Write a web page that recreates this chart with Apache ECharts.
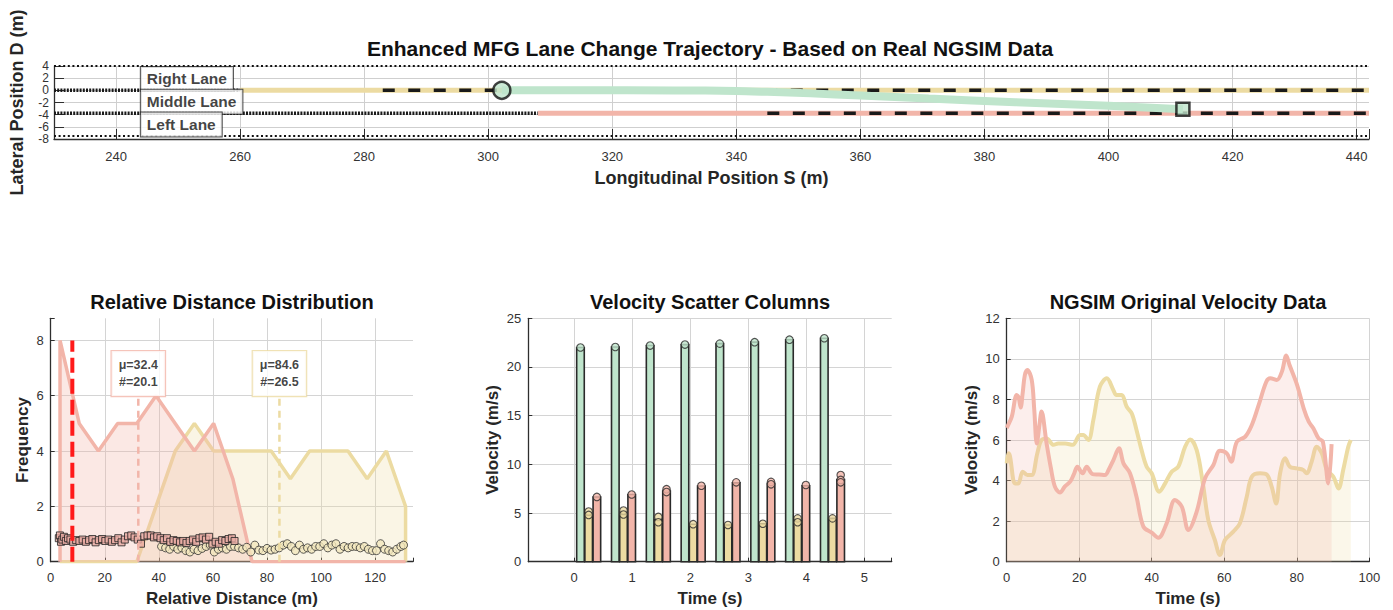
<!DOCTYPE html>
<html><head><meta charset="utf-8">
<script src="https://cdn.jsdelivr.net/npm/echarts@6/dist/echarts.min.js"></script>
<style>html,body{margin:0;padding:0;background:#fff}#c{width:1393px;height:610px}</style>
</head><body><div id="c"></div>
<script>
// ================= DATA =================
// --- top: lane change trajectory ---
const sRange = [230, 442];
const dRange = [-8, 4];
const roadEdgeD = [4, -7.5];
const laneMarkD = [0, -3.75];
const denseMarkEndS = [260, 308];     // dense marking from sRange[0] to these
const dashMarkStartS = [283, 345];    // dashed marking from these to sRange[1]
const rightVehS = [260, 442];         // right-lane vehicle path (D=0)
const leftVehS = [308, 442];          // left-lane vehicle path (D=-3.75)
const trajS = [302.2, 315, 330, 340, 345, 352, 360, 371, 385, 400, 412];
const trajD = [0, 0, -0.02, -0.1, -0.25, -0.5, -0.85, -1.35, -1.95, -2.55, -3.1];
const startPoint = [302.2, 0];
const endPoint = [412, -3.1];
const laneLabels = ['Right Lane', 'Middle Lane', 'Left Lane'];
const laneLabelD = [1.875, -1.875, -5.625];
const laneLabelS = 244;

// --- bottom-left: relative distance distribution ---
const binCenters = [3.45, 10.55, 17.65, 24.75, 31.85, 38.95, 46.05, 53.15, 60.25, 67.35, 74.45, 81.55, 88.65, 95.75, 102.85, 109.95, 117.05, 124.15, 131.25];
const freqNear = [8, 5, 4, 5, 5, 6, 5, 4, 5, 3, 0, 0, 0, 0, 0, 0, 0, 0, 0];
const freqFar  = [0, 0, 0, 0, 0, 2, 4, 5, 4, 4, 4, 4, 3, 4, 4, 4, 3, 4, 2];
const safeDist = 8;
const meanNear = 32.4, sdNear = 20.1;
const meanFar = 84.6, sdFar = 26.5;
const meanLineTop = 5.9;
const statBoxY = 6.8;
const nearPts = [[3.0,0.85],[3.4,0.95],[3.8,0.72],[4.3,0.8],[4.9,0.9],[5.6,0.75],[6.4,0.85],[7.3,0.8],[8.3,0.72],[9.4,0.78],[10.6,0.75],[11.8,0.8],[13.0,0.72],[14.2,0.78],[15.4,0.82],[16.6,0.7],[17.8,0.78],[19.0,0.82],[20.2,0.75],[21.4,0.8],[22.6,0.72],[23.8,0.78],[25.0,0.85],[26.2,0.7],[27.4,0.8],[28.6,0.92],[29.8,0.95],[31.0,0.88],[32.2,0.8],[33.4,0.65],[34.6,0.92],[35.8,0.95],[37.0,0.95],[38.2,0.88],[39.4,0.92],[40.6,0.85],[41.8,0.78],[43.0,0.85],[44.2,0.72],[45.4,0.78],[46.6,0.75],[47.8,0.7],[49.0,0.75],[50.2,0.68],[51.4,0.75],[52.6,0.8],[53.8,0.72],[55.0,0.85],[56.2,0.88],[57.4,0.8],[58.6,0.9],[59.8,0.65],[61.0,0.72],[62.2,0.65],[63.4,0.78],[64.6,0.75],[65.8,0.82],[67.0,0.85],[68.0,0.75]];
const farPts = [[41.0,0.55],[42.5,0.5],[44.0,0.45],[45.5,0.55],[47.0,0.45],[48.5,0.5],[50.0,0.4],[51.5,0.35],[53.0,0.45],[54.5,0.4],[56.0,0.48],[57.5,0.55],[59.0,0.6],[60.5,0.35],[62.0,0.45],[63.5,0.5],[65.0,0.45],[66.5,0.55],[68.0,0.55],[69.5,0.5],[71.0,0.45],[72.5,0.52],[74.0,0.35],[75.5,0.6],[77.0,0.42],[78.5,0.4],[80.0,0.48],[81.5,0.42],[83.0,0.45],[84.5,0.5],[86.0,0.6],[87.5,0.65],[89.0,0.55],[90.5,0.4],[92.0,0.6],[93.5,0.45],[95.0,0.5],[96.5,0.45],[98.0,0.55],[99.5,0.55],[101.0,0.65],[102.5,0.5],[104.0,0.6],[105.5,0.65],[107.0,0.45],[108.5,0.55],[110.0,0.5],[111.5,0.55],[113.0,0.55],[114.5,0.5],[116.0,0.55],[117.5,0.45],[119.0,0.4],[120.5,0.4],[122.0,0.65],[123.5,0.45],[125.0,0.4],[126.5,0.35],[128.0,0.45],[129.5,0.55],[130.5,0.6]];

// --- bottom-middle: velocity scatter columns ---
const velTimes  = [0.25, 0.85, 1.45, 2.05, 2.65, 3.25, 3.85, 4.45];
const velGreen  = [22.0, 22.05, 22.2, 22.3, 22.4, 22.55, 22.8, 22.95];
const velYellow = [4.8, 4.85, 4.3, 3.85, 3.77, 3.9, 4.2, 4.45];
const velRed    = [6.64, 6.9, 7.25, 7.77, 8.1, 8.05, 7.8, 8.45];
const ptsGreen  = [[0.25,22.0],[0.85,22.05],[1.45,22.2],[2.05,22.3],[2.65,22.4],[3.25,22.55],[3.85,22.8],[4.45,22.95]];
const ptsYellow = [[0.25,5.15],[0.25,4.8],[0.85,5.25],[0.85,4.85],[1.45,4.6],[1.45,4.05],[2.05,3.85],[2.65,3.77],[3.25,3.9],[3.85,4.45],[3.85,4.05],[4.45,4.45]];
const ptsRed    = [[0.25,6.65],[0.85,6.9],[1.45,7.45],[1.45,7.15],[2.05,7.8],[2.65,8.15],[3.25,8.2],[3.25,7.95],[3.85,7.88],[4.45,8.9],[4.45,8.4],[4.45,8.15]];

// --- bottom-right: NGSIM original velocity ---
const redT = [0, 0.2, 1.4, 2.75, 3.3, 3.85, 4.4, 5.0, 5.7, 6.9, 7.6, 8.3, 9.0, 9.6, 11.0, 12.2, 13.3, 14.7, 16.0, 17.5, 18.5, 19.5, 20.95, 22.05, 23.7, 25.5, 27.1, 28.3, 29.4, 30.97, 32.2, 34.0, 35.8, 37.7, 40.0, 41.8, 44.1, 46.4, 48.3, 50.1, 52.4, 54.7, 57.0, 58.8, 60.7, 61.9, 63.5, 65.8, 67.6, 69.5, 71.6, 72.7, 74.5, 75.9, 77.1, 78.0, 80.1, 81.9, 83.3, 84.6, 86.0, 87.2, 88.7, 89.6];
const redV = [6.6, 6.66, 7.15, 8.22, 8.1, 7.6, 8.3, 9.2, 9.45, 8.96, 7.5, 5.83, 6.7, 7.4, 5.83, 4.6, 3.7, 3.41, 3.7, 3.95, 4.3, 4.68, 4.36, 4.68, 4.32, 4.3, 4.27, 4.6, 5.0, 5.59, 4.85, 4.36, 3.2, 1.73, 1.43, 1.18, 1.89, 3.04, 2.71, 1.56, 2.47, 4.11, 4.77, 5.47, 5.34, 4.93, 5.92, 6.17, 6.74, 7.73, 8.87, 9.04, 8.96, 9.37, 10.16, 9.7, 8.71, 7.56, 6.9, 6.57, 6.08, 5.92, 3.86, 5.8];
const yelT = [0, 0.5, 0.9, 2.3, 3.2, 4.4, 5.7, 6.9, 8.45, 9.6, 11.0, 12.9, 14.2, 16.1, 18.2, 20.2, 21.1, 22.5, 23.9, 25.7, 27.6, 29.4, 30.3, 31.7, 33.1, 34.5, 35.8, 37.2, 38.6, 39.98, 42.1, 43.7, 45.5, 47.3, 49.2, 50.6, 52.4, 54.1, 55.6, 57.4, 58.8, 60.2, 62.5, 64.3, 66.2, 67.6, 69.9, 71.7, 73.1, 74.3, 75.4, 76.8, 78.1, 80.0, 81.8, 82.7, 84.1, 85.5, 86.9, 88.3, 90.1, 91.5, 92.8, 94.2, 94.9];
const yelV = [4.85, 5.35, 5.2, 3.86, 3.86, 4.44, 4.27, 4.27, 5.35, 6.0, 6.08, 5.76, 5.83, 5.83, 5.76, 6.25, 6.25, 6.0, 6.99, 8.63, 9.04, 8.47, 8.22, 8.22, 7.64, 7.31, 6.49, 5.5, 4.68, 4.36, 3.45, 3.86, 4.44, 4.68, 5.67, 6.03, 5.5, 3.86, 2.05, 1.07, 0.33, 1.07, 1.48, 1.89, 3.2, 4.19, 4.36, 4.3, 3.69, 2.87, 4.36, 5.1, 4.68, 4.6, 4.52, 4.36, 4.93, 5.67, 5.35, 4.52, 4.19, 3.61, 4.52, 5.67, 6.0];

// ================= STYLE / BUILD =================
const FONT = "'Liberation Sans', Arial, Helvetica, sans-serif";
const C_GREEN = '#bfe5cc', C_YEL = '#ecdba2', C_RED = '#f2b5a9';
const zip = (a, b) => a.map((v, i) => [v, b[i]]);
const stepFmt = step => v => (Math.abs(v / step - Math.round(v / step)) < 1e-6 ? String(Math.round(v * 1000) / 1000) : '');

function axis(gi, extra, tickLen) {
  return Object.assign({
    gridIndex: gi, type: 'value',
    axisLine: { show: true, onZero: false, lineStyle: { color: '#2e2e2e', width: 1.3 } },
    axisTick: { show: true, inside: true, length: tickLen || 4, lineStyle: { color: '#2e2e2e' } },
    axisLabel: { color: '#333', fontSize: 13, fontFamily: FONT },
    splitLine: { show: true, lineStyle: { color: '#d4d4d4', width: 1 } },
    nameLocation: 'middle',
    nameTextStyle: { color: '#262626', fontSize: 17, fontWeight: 'bold', fontFamily: FONT }
  }, extra);
}
const topNameStyle = { color: '#262626', fontSize: 18, fontWeight: 'bold', fontFamily: FONT };
const lbl = (extra) => Object.assign({ color: '#333', fontSize: 13, fontFamily: FONT }, extra);

const grids = [
  { left: 52, top: 66, width: 1317, height: 73 },
  { left: 50.7, top: 318.3, width: 362.3, height: 243.4 },
  { left: 528.3, top: 318.3, width: 363.4, height: 243.4 },
  { left: 1006.7, top: 318.3, width: 362.6, height: 243.4 }
];

const xAxes = [
  axis(0, { min: sRange[0], max: sRange[1], splitNumber: 10, name: 'Longitudinal Position S (m)', nameGap: 30, nameTextStyle: topNameStyle,
            axisLabel: lbl({ margin: 11, formatter: stepFmt(20) }),
            splitLine: { show: true, showMinLine: false, showMaxLine: false, lineStyle: { color: '#cfcfcf' } } }, 10),
  axis(1, { min: 0, max: 134, interval: 20, name: 'Relative Distance (m)', nameGap: 28,
            axisLabel: lbl({ margin: 9, formatter: stepFmt(20) }),
            splitLine: { show: true, showMaxLine: false, lineStyle: { color: '#d4d4d4' } } }),
  axis(2, { min: -0.79, max: 5.47, splitNumber: 6, name: 'Time (s)', nameGap: 28,
            axisLabel: lbl({ margin: 9, formatter: stepFmt(1) }),
            splitLine: { show: true, showMinLine: false, showMaxLine: false, lineStyle: { color: '#d4d4d4' } } }),
  axis(3, { min: 0, max: 100, interval: 20, name: 'Time (s)', nameGap: 28,
            axisLabel: lbl({ margin: 9 }) })
];
const yAxes = [
  axis(0, { min: dRange[0], max: dRange[1], interval: 2, name: 'Lateral Position D (m)', nameGap: 28, nameTextStyle: topNameStyle,
            axisLabel: lbl({ margin: 5, fontSize: 12, lineHeight: 11, showMinLabel: true, showMaxLabel: true }),
            splitLine: { show: true, lineStyle: { color: '#cfcfcf' } } }, 10),
  axis(1, { min: 0, max: 8.8, interval: 2, name: 'Frequency', nameGap: 20,
            axisLabel: lbl({ margin: 7, formatter: stepFmt(2) }),
            splitLine: { show: true, showMaxLine: false, lineStyle: { color: '#d4d4d4' } } }),
  axis(2, { min: 0, max: 25, interval: 5, name: 'Velocity (m/s)', nameGap: 27,
            axisLabel: lbl({ margin: 7 }) }),
  axis(3, { min: 0, max: 12, interval: 2, name: 'Velocity (m/s)', nameGap: 27,
            axisLabel: lbl({ margin: 7 }) })
];

const series = [];
function seg(gi, pts, color, width, type, z) {
  series.push({ type: 'line', xAxisIndex: gi, yAxisIndex: gi, data: pts, symbol: 'none', silent: true, z: z || 2,
    lineStyle: { color, width, type: type || 'solid', cap: 'butt' } });
}
// top: road edges
roadEdgeD.forEach(d => seg(0, [[sRange[0], d], [sRange[1], d]], '#111', 2, [2, 2.6], 3));
// vehicle lane paths
seg(0, [[rightVehS[0], laneMarkD[0]], [rightVehS[1], laneMarkD[0]]], C_YEL, 5, 'solid', 2);
seg(0, [[leftVehS[0], laneMarkD[1]], [leftVehS[1], laneMarkD[1]]], C_RED, 5, 'solid', 2);
// lane markings
laneMarkD.forEach((d, i) => {
  seg(0, [[sRange[0], d], [denseMarkEndS[i], d]], '#1a1a1a', 3.5, [2, 1.2], 3);
  seg(0, [[dashMarkStartS[i], d], [sRange[1], d]], '#1a1a1a', 3.5, [12, 13.5], 3);
});
// trajectory
series.push({ type: 'line', xAxisIndex: 0, yAxisIndex: 0, data: zip(trajS, trajD), symbol: 'none', smooth: 0.3, z: 4,
  lineStyle: { color: C_GREEN, width: 8 } });
series.push({ type: 'scatter', xAxisIndex: 0, yAxisIndex: 0, data: [startPoint], symbol: 'circle', symbolSize: 17, z: 5,
  itemStyle: { color: C_GREEN, borderColor: '#111', borderWidth: 2.5 } });
series.push({ type: 'scatter', xAxisIndex: 0, yAxisIndex: 0, data: [endPoint], symbol: 'rect', symbolSize: 13, z: 5,
  itemStyle: { color: C_GREEN, borderColor: '#111', borderWidth: 2.5 } });
// lane labels
laneLabels.forEach((t, i) => {
  series.push({ type: 'scatter', xAxisIndex: 0, yAxisIndex: 0, data: [[laneLabelS, laneLabelD[i]]], symbolSize: 0, z: 10 + i, silent: true,
    label: { show: true, position: 'right', distance: 0, formatter: t, backgroundColor: '#fff', borderColor: '#222', borderWidth: 1,
      padding: [5, 6, 3, 6], lineHeight: 16, color: '#111', fontSize: 15.5, fontWeight: 'bold', fontFamily: FONT } });
});

// bottom-left: distribution
series.push({ type: 'line', xAxisIndex: 1, yAxisIndex: 1, data: [[binCenters[0], 0]].concat(zip(binCenters, freqFar), [[binCenters[binCenters.length - 1], 0]]),
  symbol: 'none', z: 2, lineStyle: { color: C_YEL, width: 3.5 }, areaStyle: { color: 'rgba(236,219,162,0.4)', origin: 0 } });
series.push({ type: 'line', xAxisIndex: 1, yAxisIndex: 1, data: [[binCenters[0], 0]].concat(zip(binCenters, freqNear), [[binCenters[binCenters.length - 1], 0]]),
  symbol: 'none', z: 3, lineStyle: { color: C_RED, width: 3.5 }, areaStyle: { color: 'rgba(242,181,169,0.45)', origin: 0 } });
series.push({ type: 'scatter', xAxisIndex: 1, yAxisIndex: 1, data: farPts, symbol: 'circle', symbolSize: 8, z: 4,
  itemStyle: { color: '#f2e7bd', borderColor: '#333', borderWidth: 1 } });
series.push({ type: 'scatter', xAxisIndex: 1, yAxisIndex: 1, data: nearPts, symbol: 'rect', symbolSize: 7, z: 5,
  itemStyle: { color: '#e9aaa2', borderColor: '#222', borderWidth: 1 } });
seg(1, [[meanNear, 0], [meanNear, meanLineTop]], C_RED, 2.5, [7, 5], 6);
seg(1, [[meanFar, 0], [meanFar, meanLineTop]], C_YEL, 2.5, [7, 5], 6);
seg(1, [[safeDist, 0], [safeDist, 8]], '#ff1a1a', 4, [15, 6], 7);
[[meanNear, sdNear, C_RED], [meanFar, sdFar, C_YEL]].forEach(([m, s, c]) => {
  series.push({ type: 'scatter', xAxisIndex: 1, yAxisIndex: 1, data: [[m, statBoxY]], symbolSize: 0, z: 9, silent: true,
    label: { show: true, position: 'inside', formatter: 'μ=' + m.toFixed(1) + '\n#=' + s.toFixed(1), backgroundColor: '#fff',
      borderColor: c, borderWidth: 1.2, padding: [6, 7, 5, 7], lineHeight: 17, color: '#111', fontSize: 12.5, fontWeight: 'bold', fontFamily: FONT } });
});

// bottom-middle: columns
function barSeries(times, vals, color, off) {
  series.push({ type: 'custom', xAxisIndex: 2, yAxisIndex: 2, data: zip(times, vals), z: 2,
    renderItem: (params, api) => {
      const p1 = api.coord([api.value(0), api.value(1)]);
      const p0 = api.coord([api.value(0), 0]);
      const w = 7.6;
      return { type: 'rect', shape: { x: p1[0] + off - w / 2, y: p1[1], width: w, height: p0[1] - p1[1] },
        style: { fill: color, stroke: '#2a2a2a', lineWidth: 1.6 } };
    } });
}
barSeries(velTimes, velGreen, C_GREEN, -8.2);
barSeries(velTimes, velYellow, C_YEL, 0);
barSeries(velTimes, velRed, C_RED, 8.2);
[[ptsGreen, C_GREEN, -8.2], [ptsYellow, C_YEL, 0], [ptsRed, C_RED, 8.2]].forEach(([pts, c, off]) => {
  series.push({ type: 'scatter', xAxisIndex: 2, yAxisIndex: 2, data: pts, symbol: 'circle', symbolSize: 7.5, symbolOffset: [off, 0], z: 4,
    itemStyle: { color: c, borderColor: '#2a2a2a', borderWidth: 1.1 } });
});

// bottom-right: NGSIM velocity
series.push({ type: 'line', xAxisIndex: 3, yAxisIndex: 3, data: zip(yelT, yelV), symbol: 'none', smooth: 0.35, z: 2,
  lineStyle: { color: C_YEL, width: 4 }, areaStyle: { color: 'rgba(236,219,162,0.32)', origin: 0 } });
series.push({ type: 'line', xAxisIndex: 3, yAxisIndex: 3, data: zip(redT, redV), symbol: 'none', smooth: 0.35, z: 3,
  lineStyle: { color: C_RED, width: 4 }, areaStyle: { color: 'rgba(242,181,169,0.32)', origin: 0 } });

const titleStyle = { font: 'bold 20px ' + FONT, fill: '#111', textAlign: 'center', textVerticalAlign: 'middle' };
const option = {
  animation: false,
  backgroundColor: '#fff',
  grid: grids, xAxis: xAxes, yAxis: yAxes, series,
  graphic: [
    { type: 'text', x: 710, y: 48, style: Object.assign({}, titleStyle, { text: 'Enhanced MFG Lane Change Trajectory - Based on Real NGSIM Data', font: 'bold 21px ' + FONT }) },
    { type: 'text', x: 232, y: 302, style: Object.assign({}, titleStyle, { text: 'Relative Distance Distribution' }) },
    { type: 'text', x: 710, y: 302, style: Object.assign({}, titleStyle, { text: 'Velocity Scatter Columns' }) },
    { type: 'text', x: 1188, y: 302, style: Object.assign({}, titleStyle, { text: 'NGSIM Original Velocity Data' }) }
  ]
};
const chart = echarts.init(document.getElementById('c'), null, { renderer: 'svg', width: 1393, height: 610 });
chart.setOption(option);
</script></body></html>
